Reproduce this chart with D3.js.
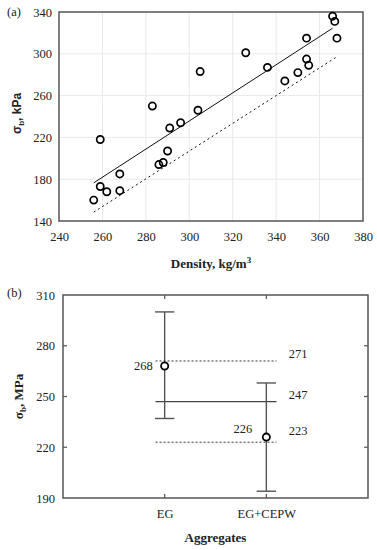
<!DOCTYPE html>
<html>
<head>
<meta charset="utf-8">
<script src="https://cdn.jsdelivr.net/npm/d3@7"></script>
<style>
  body { margin: 0; background: #fff; }
  svg { display: block; }
  text { font-family: "Liberation Serif", "DejaVu Serif", serif; fill: #222; }
</style>
</head>
<body>
<script>
// ---- data (a): density vs strength ----
const density = [256, 259, 259, 262, 268, 268, 283, 286, 288, 290, 291, 296, 304, 305,
                 326, 336, 344, 350, 354, 355, 354, 366, 367, 368];
const strength = [160, 218, 173, 168, 185, 169, 250, 194, 196, 207, 229, 234, 246, 283,
                  301, 287, 274, 282, 295, 289, 315, 336, 331, 315];
const fitLine = [[256, 176.5], [366, 324.5]];   // solid trend line
const lowerLine = [[256, 148.5], [367.5, 296.5]]; // dashed lower bound
const xTicksA = [240, 260, 280, 300, 320, 340, 360, 380];
const yTicksA = [140, 180, 220, 260, 300, 340];

// ---- data (b): aggregates ----
const groups = ['EG', 'EG+CEPW'];
const means = [268, 226];
const errHigh = [300, 258];
const errLow = [237, 194];
const refLines = [ // value, style, label
  { v: 271, dash: true, label: '271' },
  { v: 247, dash: false, label: '247' },
  { v: 223, dash: true, label: '223' }
];
const yTicksB = [190, 220, 250, 280, 310];

const svg = d3.select('body').append('svg')
  .attr('width', 377)
  .attr('height', 550);

// ================= chart (a) =================
const a = { left: 59, right: 363, top: 12, bottom: 221 };
const xA = d3.scaleLinear().domain([240, 380]).range([a.left, a.right]);
const yA = d3.scaleLinear().domain([140, 340]).range([a.bottom, a.top]);

// gridlines
svg.append('g').selectAll('line.vx')
  .data(xTicksA.slice(1, -1))
  .enter().append('line')
  .attr('x1', d => xA(d)).attr('x2', d => xA(d))
  .attr('y1', a.top).attr('y2', a.bottom)
  .attr('stroke', '#e8e8e8').attr('stroke-width', 1);
svg.append('g').selectAll('line.hy')
  .data(yTicksA.slice(1, -1))
  .enter().append('line')
  .attr('x1', a.left).attr('x2', a.right)
  .attr('y1', d => yA(d)).attr('y2', d => yA(d))
  .attr('stroke', '#e8e8e8').attr('stroke-width', 1);

// axes (labels only)
const xAxisA = svg.append('g')
  .attr('transform', 'translate(0,' + a.bottom + ')')
  .call(d3.axisBottom(xA).tickValues(xTicksA).tickSize(0).tickPadding(11));
const yAxisA = svg.append('g')
  .attr('transform', 'translate(' + a.left + ',0)')
  .call(d3.axisLeft(yA).tickValues(yTicksA).tickSize(0).tickPadding(7));
[xAxisA, yAxisA].forEach(g => {
  g.select('.domain').remove();
  g.selectAll('text').style('font-family', '"Liberation Serif", serif').style('font-size', '12.5px').attr('fill', '#222');
});

// frame
svg.append('rect')
  .attr('x', a.left).attr('y', a.top)
  .attr('width', a.right - a.left).attr('height', a.bottom - a.top)
  .attr('fill', 'none').attr('stroke', '#555').attr('stroke-width', 1.5);

// lines
const lineA = d3.line().x(d => xA(d[0])).y(d => yA(d[1]));
svg.append('path').datum(fitLine).attr('d', lineA)
  .attr('fill', 'none').attr('stroke', '#111').attr('stroke-width', 1);
svg.append('path').datum(lowerLine).attr('d', lineA)
  .attr('fill', 'none').attr('stroke', '#111').attr('stroke-width', 1)
  .attr('stroke-dasharray', '2,3');

// points
svg.append('g').selectAll('circle')
  .data(density.map((d, i) => [d, strength[i]]))
  .enter().append('circle')
  .attr('cx', d => xA(d[0])).attr('cy', d => yA(d[1]))
  .attr('r', 3.6)
  .attr('fill', 'none').attr('stroke', '#000').attr('stroke-width', 1.7);

// titles
svg.append('text').attr('x', 7).attr('y', 16).style('font-size', '12.5px').text('(a)');
const xtA = svg.append('text')
  .attr('x', (a.left + a.right) / 2).attr('y', 268)
  .attr('text-anchor', 'middle')
  .style('font-size', '13px').style('font-weight', 'bold')
  .text('Density, kg/m');
xtA.append('tspan').attr('dy', -5).style('font-size', '9px').text('3');

const ytA = svg.append('text')
  .attr('transform', 'translate(21,' + ((a.top + a.bottom) / 2 - 3) + ') rotate(-90)')
  .attr('text-anchor', 'middle')
  .style('font-family', '"Liberation Sans", Arial, sans-serif')
  .style('font-size', '12px').style('font-weight', 'bold')
  .text('σ');
ytA.append('tspan').attr('dy', 3).style('font-size', '8px').text('b');
ytA.append('tspan').attr('dy', -3).text(', kPa');

// ================= chart (b) =================
const b = { left: 63, right: 368, top: 295, bottom: 498 };
const xB = d3.scaleLinear().domain([0, 3]).range([b.left, b.right]);
const yB = d3.scaleLinear().domain([190, 310]).range([b.bottom, b.top]);
const gx = i => xB(i + 1);

const yAxisB = svg.append('g')
  .attr('transform', 'translate(' + b.left + ',0)')
  .call(d3.axisLeft(yB).tickValues(yTicksB).tickSize(0).tickPadding(8));
const xAxisB = svg.append('g')
  .attr('transform', 'translate(0,' + b.bottom + ')')
  .call(d3.axisBottom(xB).tickValues([1, 2]).tickFormat(d => groups[d - 1]).tickSize(0).tickPadding(11));
[xAxisB, yAxisB].forEach(g => {
  g.select('.domain').remove();
  g.selectAll('text').style('font-family', '"Liberation Serif", serif').style('font-size', '12.5px').attr('fill', '#222');
});

// inward ticks on all sides
const tickLen = 4;
svg.append('g').selectAll('line')
  .data(yTicksB.slice(1, -1))
  .enter().append('g')
  .each(function (d) {
    const g = d3.select(this);
    g.append('line').attr('x1', b.left).attr('x2', b.left + tickLen).attr('y1', yB(d)).attr('y2', yB(d));
    g.append('line').attr('x1', b.right).attr('x2', b.right - tickLen).attr('y1', yB(d)).attr('y2', yB(d));
  })
  .selectAll('line').attr('stroke', '#555').attr('stroke-width', 1.2);
svg.append('g').selectAll('g')
  .data([1, 2])
  .enter().append('g')
  .each(function (d) {
    const g = d3.select(this);
    g.append('line').attr('x1', xB(d)).attr('x2', xB(d)).attr('y1', b.top).attr('y2', b.top + tickLen);
    g.append('line').attr('x1', xB(d)).attr('x2', xB(d)).attr('y1', b.bottom).attr('y2', b.bottom - tickLen);
  })
  .selectAll('line').attr('stroke', '#555').attr('stroke-width', 1.2);

svg.append('rect')
  .attr('x', b.left).attr('y', b.top)
  .attr('width', b.right - b.left).attr('height', b.bottom - b.top)
  .attr('fill', 'none').attr('stroke', '#555').attr('stroke-width', 1.5);

// reference lines
const refX0 = xB(0.91), refX1 = xB(2.1);
svg.append('g').selectAll('line')
  .data(refLines)
  .enter().append('line')
  .attr('x1', refX0).attr('x2', refX1)
  .attr('y1', d => yB(d.v)).attr('y2', d => yB(d.v))
  .attr('stroke', d => d.dash ? '#333' : '#444')
  .attr('stroke-width', d => d.dash ? 1 : 1.4)
  .attr('stroke-dasharray', d => d.dash ? '2,2' : null);
svg.append('g').selectAll('text')
  .data(refLines)
  .enter().append('text')
  .attr('x', xB(2.22))
  .attr('y', (d, i) => yB(d.v) + (i === 2 ? -7 : -3))
  .style('font-size', '12.5px')
  .text(d => d.label);

// error bars
const capW = 9.7;
const eb = svg.append('g').selectAll('g')
  .data(groups.map((g, i) => ({ i, hi: errHigh[i], lo: errLow[i], m: means[i] })))
  .enter().append('g')
  .attr('stroke', '#555').attr('stroke-width', 1.4);
eb.append('line').attr('x1', d => gx(d.i)).attr('x2', d => gx(d.i))
  .attr('y1', d => yB(d.hi)).attr('y2', d => yB(d.lo));
eb.append('line').attr('x1', d => gx(d.i) - capW).attr('x2', d => gx(d.i) + capW)
  .attr('y1', d => yB(d.hi)).attr('y2', d => yB(d.hi));
eb.append('line').attr('x1', d => gx(d.i) - capW).attr('x2', d => gx(d.i) + capW)
  .attr('y1', d => yB(d.lo)).attr('y2', d => yB(d.lo));

// means
svg.append('g').selectAll('circle')
  .data(means)
  .enter().append('circle')
  .attr('cx', (d, i) => gx(i)).attr('cy', d => yB(d))
  .attr('r', 3.6)
  .attr('fill', '#fff').attr('stroke', '#000').attr('stroke-width', 1.8);
svg.append('g').selectAll('text')
  .data(means)
  .enter().append('text')
  .attr('x', (d, i) => gx(i) - (i === 0 ? 12 : 14))
  .attr('y', (d, i) => yB(d) + (i === 0 ? 4 : -4))
  .attr('text-anchor', 'end')
  .style('font-size', '12.5px')
  .text(d => d);

// titles
svg.append('text').attr('x', 7).attr('y', 297).style('font-size', '12.5px').text('(b)');
svg.append('text')
  .attr('x', (b.left + b.right) / 2).attr('y', 542)
  .attr('text-anchor', 'middle')
  .style('font-size', '13px').style('font-weight', 'bold')
  .text('Aggregates');
const ytB = svg.append('text')
  .attr('transform', 'translate(23,' + ((b.top + b.bottom) / 2) + ') rotate(-90)')
  .attr('text-anchor', 'middle')
  .style('font-size', '13px').style('font-weight', 'bold')
  .text('σ');
ytB.append('tspan').attr('dy', 3).style('font-size', '9px').text('b');
ytB.append('tspan').attr('dy', -3).text(', MPa');
</script>
</body>
</html>
